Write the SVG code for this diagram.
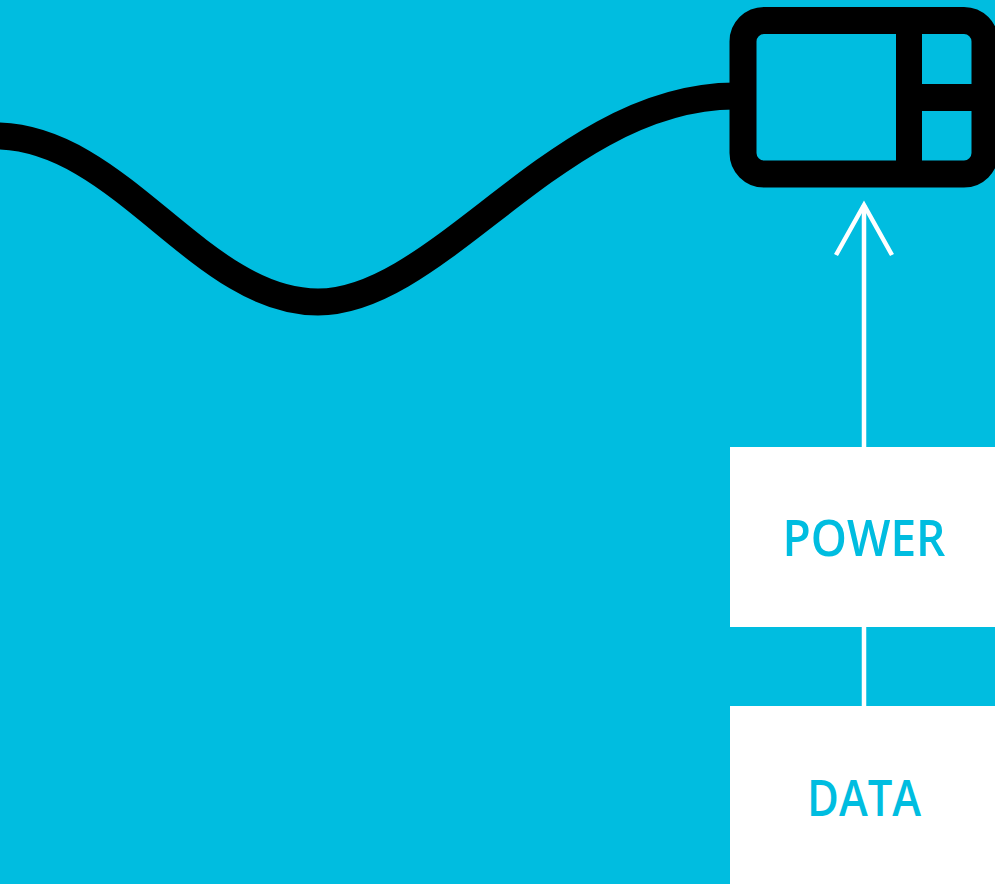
<svg xmlns="http://www.w3.org/2000/svg" width="995" height="884" viewBox="0 0 995 884">
<style>
.bg{fill:#00BDE0}
.blk{fill:none;stroke:#000;stroke-width:27}
.wline{stroke:#fff;stroke-width:4.5;fill:none}
.box{fill:#fff}
.lbl{font-family:"Open Sans","Noto Sans",sans-serif;font-weight:600;font-size:51px;fill:#00BDE0;text-anchor:middle}
</style>
<rect class="bg" x="0" y="0" width="995" height="884"/>
<g id="cable">
<path class="blk" d="M-5,136 C120,136 200,302 318,302 C440,302 560,96 735,96"/>
</g>
<g id="plug">
<rect class="blk" x="743" y="20.5" width="242" height="153.5" rx="21" ry="21"/>
<rect x="896" y="30" width="26" height="135" fill="#000"/>
<rect x="920" y="84" width="58" height="27" fill="#000"/>
</g>
<g id="connectors">
<line class="wline" x1="864" y1="205" x2="864" y2="447"/>
<polyline class="wline" points="836,255 864,205 892,255"/>
<line class="wline" x1="864" y1="627" x2="864" y2="706"/>
</g>
<g id="power">
<rect class="box" x="730" y="447" width="265" height="180"/>
<text class="lbl" x="864" y="556" textLength="163" lengthAdjust="spacingAndGlyphs">POWER</text>
</g>
<g id="data">
<rect class="box" x="730" y="706" width="265" height="178"/>
<text class="lbl" x="864" y="816" textLength="114" lengthAdjust="spacingAndGlyphs">DATA</text>
</g>
</svg>
